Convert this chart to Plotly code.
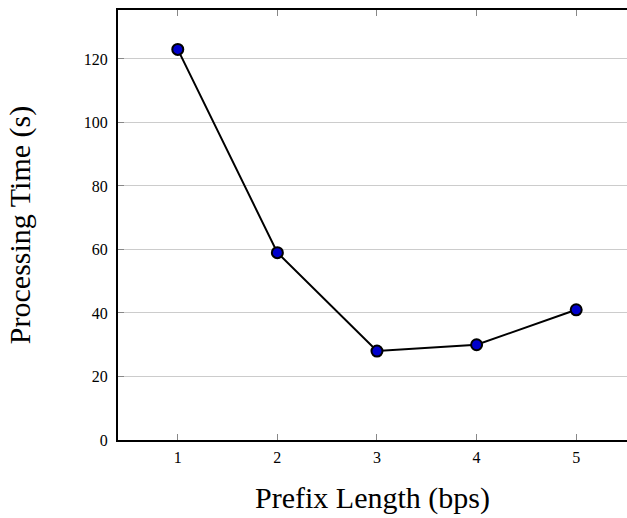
import plotly.graph_objects as go

# Processing time measured for each prefix length
prefix_length = [1, 2, 3, 4, 5]
processing_time = [123, 59, 28, 30, 41]
y_ticks = [0, 20, 40, 60, 80, 100, 120]

fig = go.Figure()
fig.add_trace(go.Scatter(
    x=prefix_length,
    y=processing_time,
    mode="lines+markers",
    line=dict(color="black", width=2),
    marker=dict(size=11, color="#0000cc", line=dict(color="black", width=2)),
    showlegend=False,
))

serif = "Liberation Serif, DejaVu Serif, serif"

fig.update_layout(
    width=627,
    height=518,
    margin=dict(l=118, r=0, t=10, b=78),
    paper_bgcolor="white",
    plot_bgcolor="white",
    font=dict(family=serif, color="black"),
)

fig.update_xaxes(
    range=[0.4, 5.51],
    tickvals=prefix_length,
    ticks="inside",
    ticklen=6,
    tickcolor="#888888",
    tickwidth=1,
    showline=True,
    linecolor="black",
    linewidth=2,
    mirror="ticks",
    showgrid=False,
    zeroline=False,
    tickfont=dict(size=16, family=serif),
    ticklabelstandoff=2,
    title=dict(text="Prefix Length (bps)", font=dict(size=30, family=serif), standoff=22),
)

fig.update_yaxes(
    range=[0, 135.4],
    tickvals=y_ticks,
    ticks="inside",
    ticklen=6,
    tickcolor="#888888",
    tickwidth=1,
    showline=True,
    linecolor="black",
    linewidth=2,
    showgrid=True,
    gridcolor="#cccccc",
    gridwidth=1,
    zeroline=False,
    tickfont=dict(size=16, family=serif),
    ticklabelstandoff=5,
    title=dict(text="Processing Time (s)", font=dict(size=30, family=serif), standoff=44),
)

fig.write_html("out.html")
